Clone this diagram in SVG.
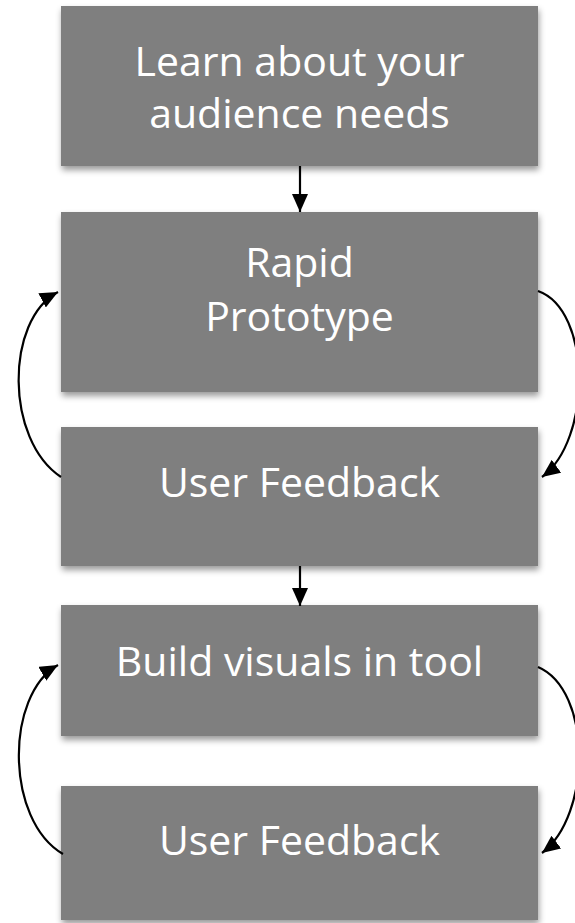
<svg xmlns="http://www.w3.org/2000/svg" width="575" height="923" viewBox="0 0 575 923">
  <style>
    .box { fill: #7f7f7f; filter: url(#shadow); }
    .label { fill: #ffffff; font-family: "Open Sans", "Liberation Sans", sans-serif; font-size: 41px; text-anchor: middle; }
    .link { fill: none; stroke: #000000; stroke-width: 2.2; marker-end: url(#head); }
  </style>
  <defs>
    <filter id="shadow" x="-10%" y="-20%" width="120%" height="150%">
      <feDropShadow dx="1" dy="4" stdDeviation="3" flood-color="#000000" flood-opacity="0.4"/>
    </filter>
    <marker id="head" markerUnits="userSpaceOnUse" markerWidth="19" markerHeight="16" refX="18" refY="8" orient="auto">
      <path d="M0,0 L18,8 L0,16 Z" fill="#000000"/>
    </marker>
  </defs>

  <g id="node-learn">
    <rect class="box" x="61" y="6" width="477" height="160"/>
    <text class="label" x="299.5" y="76">Learn about your</text>
    <text class="label" x="299.5" y="128">audience needs</text>
  </g>

  <g id="node-prototype">
    <rect class="box" x="61" y="212" width="477" height="180"/>
    <text class="label" x="299.5" y="277">Rapid</text>
    <text class="label" x="299.5" y="331">Prototype</text>
  </g>

  <g id="node-feedback-1">
    <rect class="box" x="61" y="427" width="477" height="139"/>
    <text class="label" x="299.5" y="497">User Feedback</text>
  </g>

  <g id="node-build">
    <rect class="box" x="61" y="605" width="477" height="131"/>
    <text class="label" x="299.5" y="676">Build visuals in tool</text>
  </g>

  <g id="node-feedback-2">
    <rect class="box" x="61" y="786" width="477" height="134"/>
    <text class="label" x="299.5" y="855">User Feedback</text>
  </g>

  <g id="connectors">
    <path class="link" d="M300,166 L300,212"/>
    <path class="link" d="M300,566 L300,606"/>
    <path class="link" d="M61,477 C5,440 5,320 58,292"/>
    <path class="link" d="M538,291 C592,310 592,440 542,477"/>
    <path class="link" d="M63,854 C5,820 5,695 58,665"/>
    <path class="link" d="M538,667 C592,690 592,815 542,853"/>
  </g>
</svg>
